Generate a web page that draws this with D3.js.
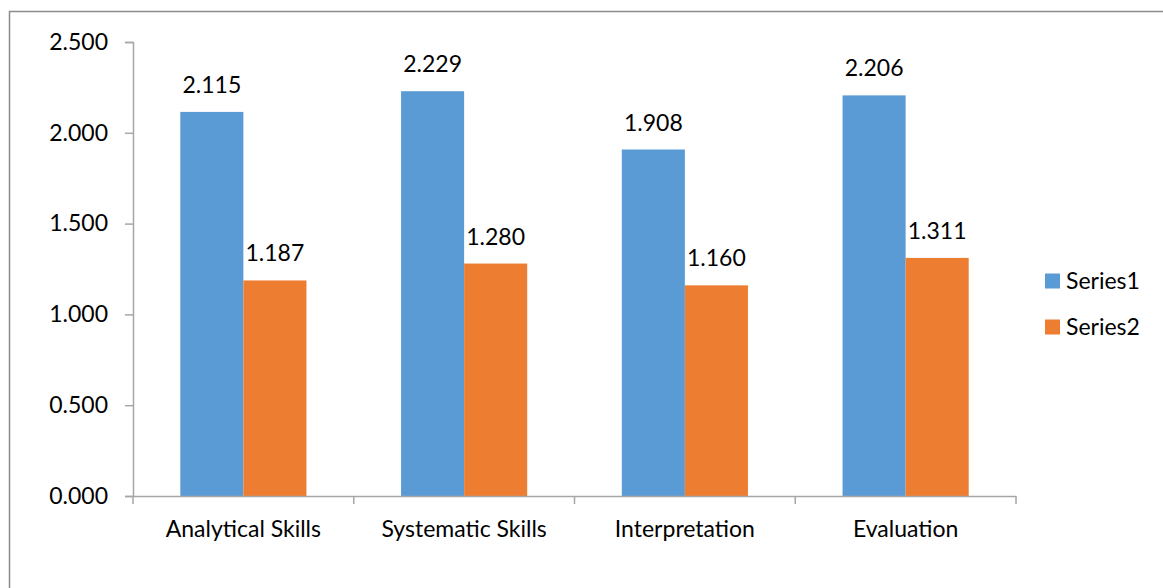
<!DOCTYPE html>
<html>
<head>
<meta charset="utf-8">
<script src="https://cdn.jsdelivr.net/npm/d3@7"></script>
<style>
  body { margin: 0; background: #fff; }
  svg { display: block; font-family: Lato, "Open Sans", sans-serif; }
</style>
</head>
<body>
<svg id="chart" width="1163" height="588"></svg>
<script>
// Chart data
var categories = ["Analytical Skills", "Systematic Skills", "Interpretation", "Evaluation"];
var seriesNames = ["Series1", "Series2"];
var series1 = [2.115, 2.229, 1.908, 2.206];
var series2 = [1.187, 1.280, 1.160, 1.311];
var yTicks = [0, 0.5, 1.0, 1.5, 2.0, 2.5];

var colors = ["#5b9bd5", "#ed7d31"];
var axisColor = "#a6a6a6";
var fontSize = "23px";

var svg = d3.select("#chart");

// outer chart border (only top and left visible in the crop)
svg.append("rect")
    .attr("x", 9.5).attr("y", 11.5)
    .attr("width", 1163).attr("height", 600)
    .attr("fill", "none")
    .attr("stroke", "#8c8c8c")
    .attr("stroke-width", 1.5);

var plot = { left: 133, right: 1016, top: 42, bottom: 496 };

var x0 = d3.scaleBand()
    .domain(categories)
    .range([plot.left, plot.right])
    .paddingInner(0)
    .paddingOuter(0);

// bar width = band / 3.5 (gap width 150%)
var x1 = d3.scaleBand()
    .domain(seriesNames)
    .range([x0.bandwidth() * 0.75 / 3.5, x0.bandwidth() - x0.bandwidth() * 0.75 / 3.5]);

var y = d3.scaleLinear()
    .domain([0, 2.5])
    .range([plot.bottom, plot.top]);

// y axis
var yAxis = svg.append("g")
    .attr("transform", "translate(" + plot.left + ",0)")
    .call(d3.axisLeft(y).tickValues(yTicks).tickFormat(d3.format(".3f")).tickSizeOuter(0).tickSize(8).tickPadding(17));
yAxis.select(".domain").attr("stroke", axisColor).attr("stroke-width", 1.5);
yAxis.selectAll(".tick line").attr("stroke", axisColor).attr("stroke-width", 1.5);
yAxis.selectAll(".tick text").attr("font-size", fontSize).attr("fill", "#000")
    .attr("font-family", "Lato, sans-serif");

// bars
var data = categories.map(function (c, i) {
    return { cat: c, values: [series1[i], series2[i]] };
});

var groups = svg.selectAll(".cat")
    .data(data)
    .enter().append("g")
    .attr("class", "cat")
    .attr("transform", function (d) { return "translate(" + x0(d.cat) + ",0)"; });

groups.selectAll("rect")
    .data(function (d) { return d.values.map(function (v, i) { return { name: seriesNames[i], value: v, i: i }; }); })
    .enter().append("rect")
    .attr("x", function (d) { return x1(d.name); })
    .attr("width", x1.bandwidth())
    .attr("y", function (d) { return y(d.value); })
    .attr("height", function (d) { return plot.bottom - y(d.value); })
    .attr("fill", function (d) { return colors[d.i]; });

groups.selectAll(".val")
    .data(function (d) { return d.values.map(function (v, i) { return { name: seriesNames[i], value: v }; }); })
    .enter().append("text")
    .attr("class", "val")
    .attr("x", function (d) { return x1(d.name) + x1.bandwidth() / 2; })
    .attr("y", function (d) { return y(d.value) - 19; })
    .attr("text-anchor", "middle")
    .attr("font-size", fontSize)
    .text(function (d) { return d3.format(".3f")(d.value); });

// x axis
var xAxis = svg.append("g")
    .attr("transform", "translate(0," + plot.bottom + ")")
    .call(d3.axisBottom(x0).tickSize(0).tickPadding(25).tickSizeOuter(0));
xAxis.select(".domain").attr("stroke", axisColor).attr("stroke-width", 1.5);
xAxis.selectAll(".tick text").attr("font-size", fontSize).attr("fill", "#000")
    .attr("font-family", "Lato, sans-serif");

// category separators
var bounds = categories.map(function (c) { return x0(c); }).concat([plot.right]);
svg.selectAll(".sep")
    .data(bounds)
    .enter().append("line")
    .attr("x1", function (d) { return d; })
    .attr("x2", function (d) { return d; })
    .attr("y1", plot.bottom)
    .attr("y2", plot.bottom + 8)
    .attr("stroke", axisColor)
    .attr("stroke-width", 1.5);

// legend
var legend = svg.selectAll(".legend")
    .data(seriesNames)
    .enter().append("g")
    .attr("class", "legend")
    .attr("transform", function (d, i) { return "translate(1045," + (281 + i * 46) + ")"; });

legend.append("rect")
    .attr("x", 0).attr("y", -7.5)
    .attr("width", 15).attr("height", 15)
    .attr("fill", function (d, i) { return colors[i]; });

legend.append("text")
    .attr("x", 21)
    .attr("dy", "0.35em")
    .attr("font-size", fontSize)
    .text(function (d) { return d; });
</script>
</body>
</html>
